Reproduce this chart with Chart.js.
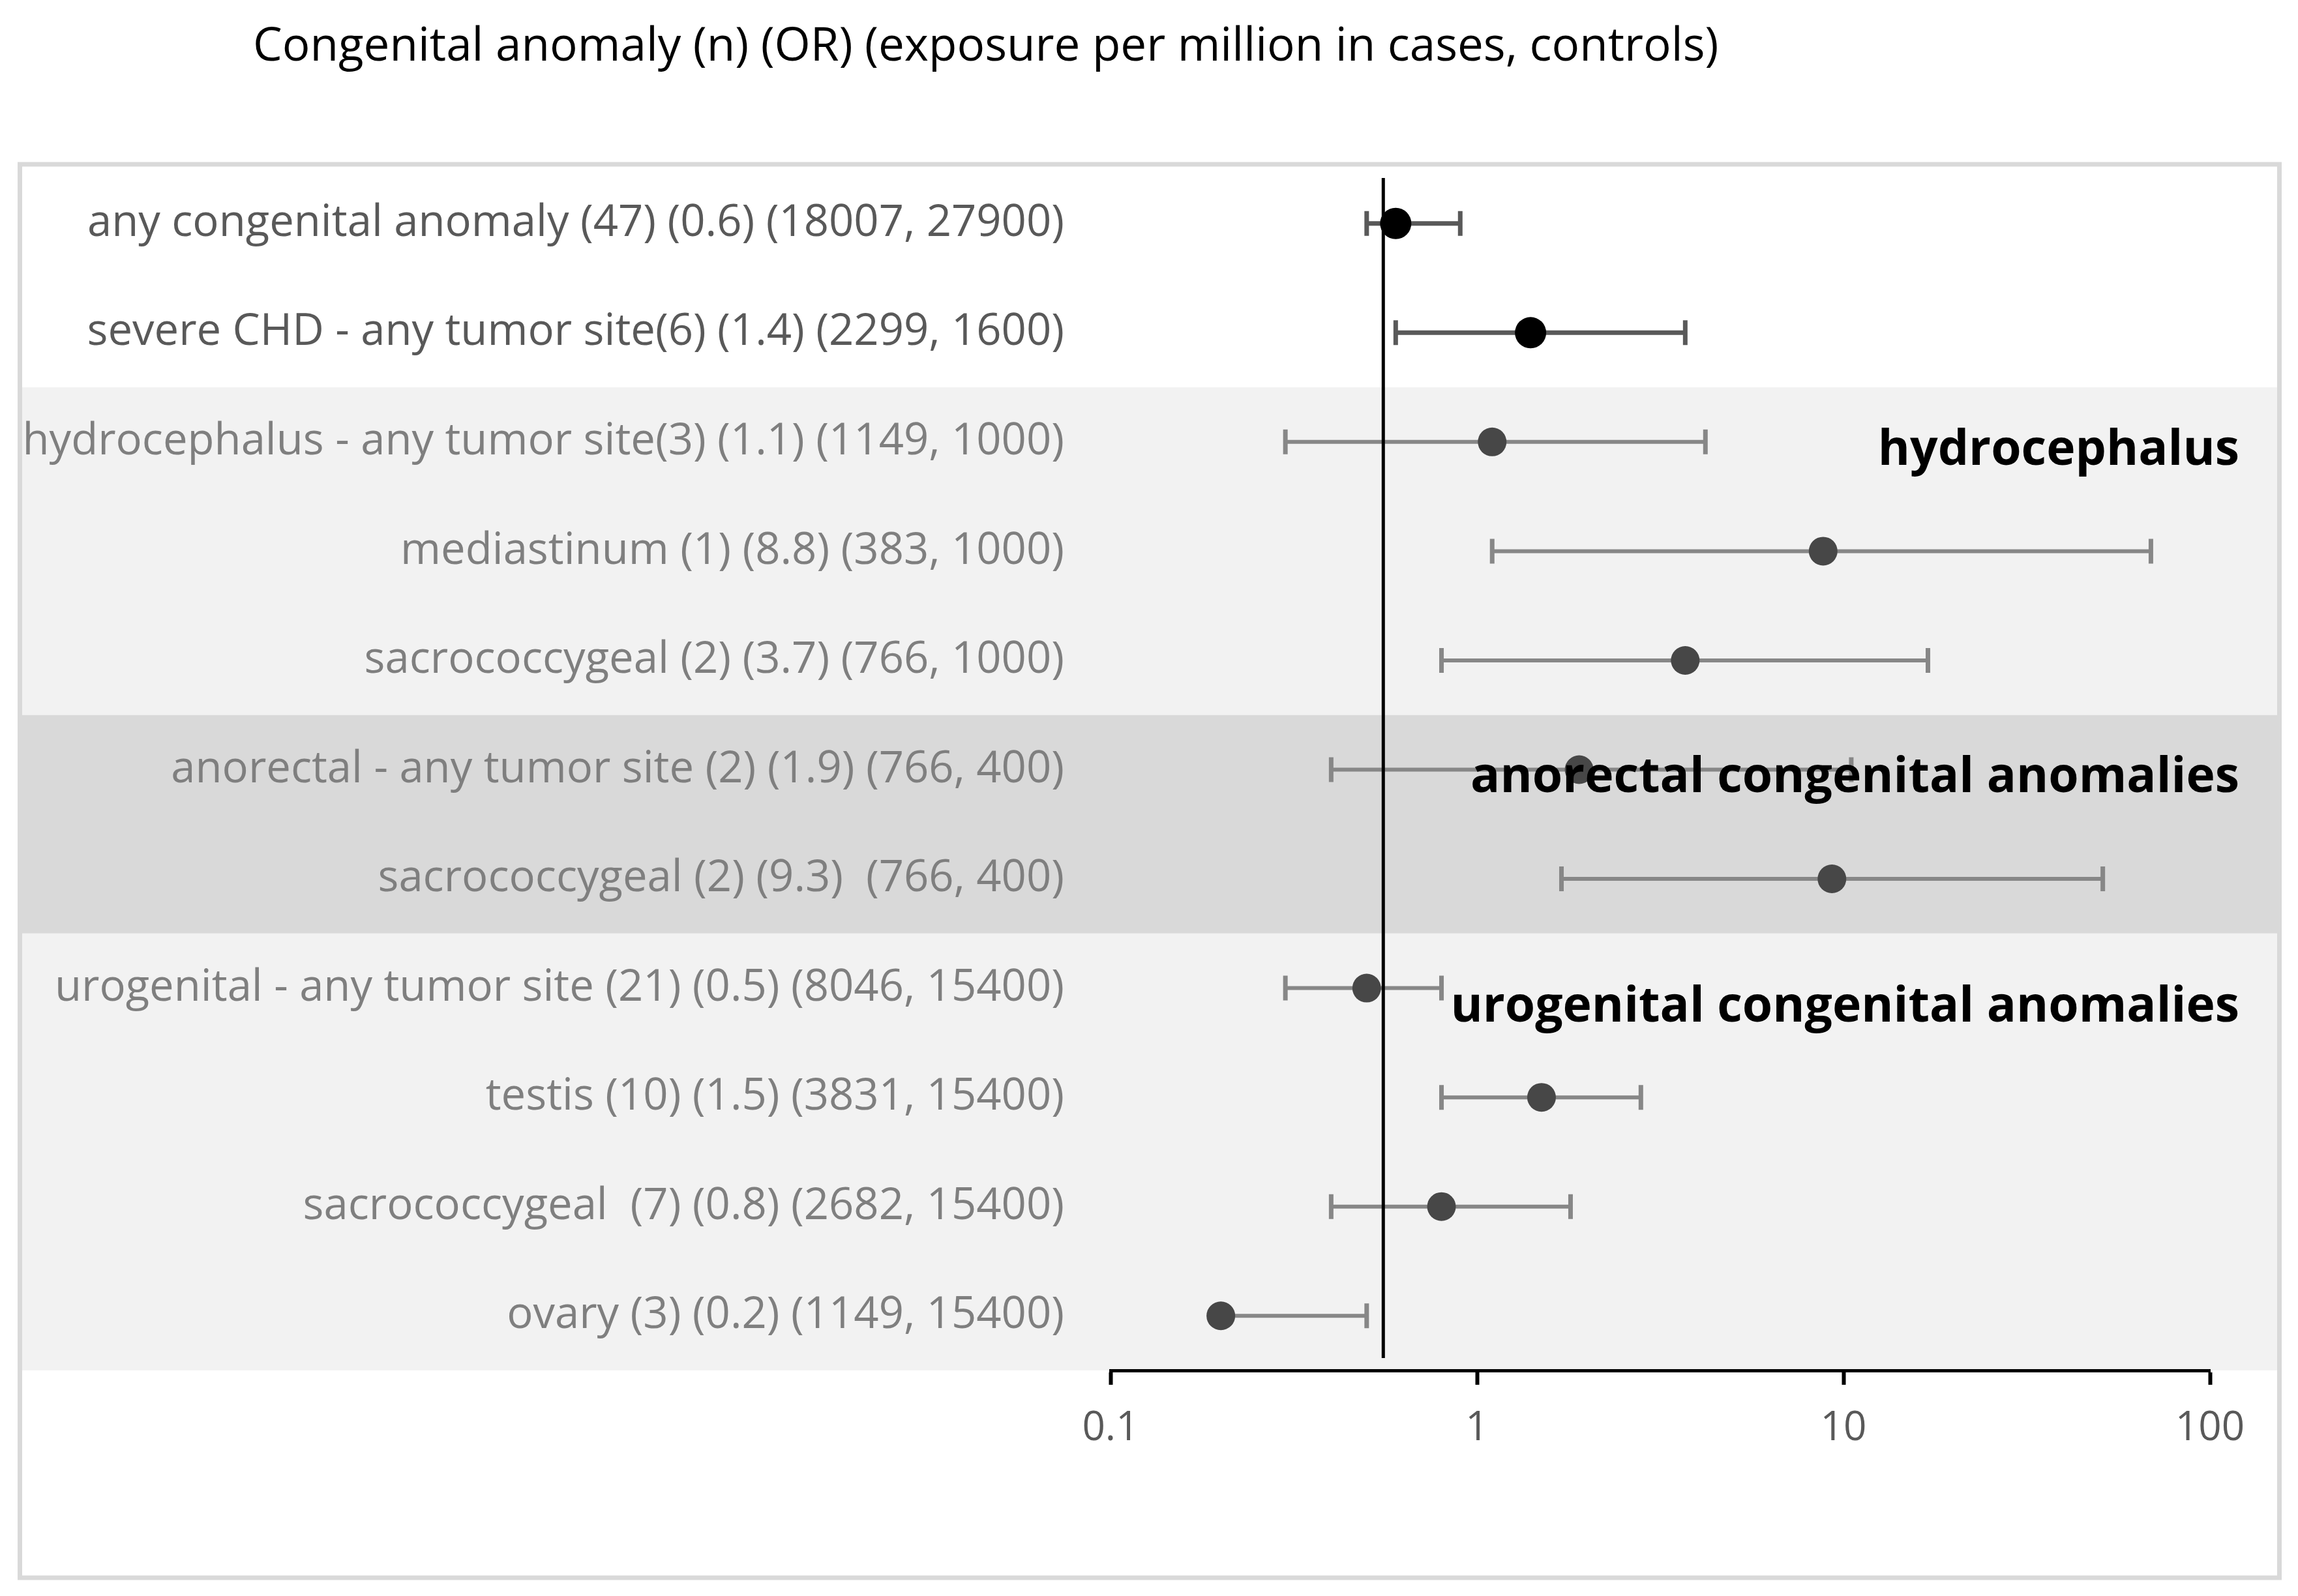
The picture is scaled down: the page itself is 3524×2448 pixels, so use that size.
<!DOCTYPE html>
<html>
<head>
<meta charset="utf-8">
<script src="https://cdn.jsdelivr.net/npm/chart.js@4.4.1/dist/chart.umd.min.js"></script>
<style>
  html, body { margin: 0; padding: 0; background: #fff; }
  canvas { display: block; }
</style>
</head>
<body>
<canvas id="myChart" width="3524" height="2448" style="width:3524px;height:2448px"></canvas>
<script>
    // Data
    const titleText = 'Congenital anomaly (n) (OR) (exposure per million in cases, controls)';
    const categories = [
        'any congenital anomaly (47) (0.6) (18007, 27900)',
        'severe CHD - any tumor site(6) (1.4) (2299, 1600)',
        'hydrocephalus - any tumor site(3) (1.1) (1149, 1000)',
        'mediastinum (1) (8.8) (383, 1000)',
        'sacrococcygeal (2) (3.7) (766, 1000)',
        'anorectal - any tumor site (2) (1.9) (766, 400)',
        'sacrococcygeal (2) (9.3)  (766, 400)',
        'urogenital - any tumor site (21) (0.5) (8046, 15400)',
        'testis (10) (1.5) (3831, 15400)',
        'sacrococcygeal  (7) (0.8) (2682, 15400)',
        'ovary (3) (0.2) (1149, 15400)'
    ];
    const orValues = [0.6, 1.4, 1.1, 8.8, 3.7, 1.9, 9.3, 0.5, 1.5, 0.8, 0.2];
    const ciLow = [0.5, 0.6, 0.3, 1.1, 0.8, 0.4, 1.7, 0.3, 0.8, 0.4, null];
    const ciHigh = [0.9, 3.7, 4.2, 69, 17, 10.5, 51, 0.8, 2.8, 1.8, 0.5];
    const xTicks = [0.1, 1, 10, 100];
    const refValue = 0.555;

    // group bands (row ranges) and their labels
    const groupNames = ['hydrocephalus', 'anorectal congenital anomalies', 'urogenital congenital anomalies'];
    const groupLabelRows = [2.08, 5.08, 7.18];
    const bandFirst = [2, 5, 7];
    const bandLast = [4, 6, 10];
    const bandColors = ['#f2f2f2', '#d9d9d9', '#f2f2f2'];

    const isMain = (i) => i < 2; // the two overall rows are darker

    const forestPlugin = {
        id: 'forest',
        beforeDraw(chart) {
            const { ctx } = chart;
            const y = chart.scales.y;
            ctx.save();
            bandFirst.forEach((first, i) => {
                const top = y.getPixelForValue(first - 0.5);
                const bottom = y.getPixelForValue(bandLast[i] + 0.5);
                ctx.fillStyle = bandColors[i];
                ctx.fillRect(34, top, 3458, bottom - top);
            });
            // outer frame
            ctx.strokeStyle = '#d9d9d9';
            ctx.lineWidth = 7;
            ctx.strokeRect(30.5, 252, 3465, 2168);
            // title
            ctx.fillStyle = '#000';
            ctx.font = '71px "Open Sans"';
            ctx.textAlign = 'left';
            ctx.textBaseline = 'alphabetic';
            ctx.fillText(titleText, 388, 93);
            ctx.restore();
        },
        beforeDatasetsDraw(chart) {
            const { ctx, chartArea } = chart;
            const x = chart.scales.x;
            const y = chart.scales.y;
            ctx.save();
            // error bars
            orValues.forEach((v, i) => {
                const py = y.getPixelForValue(i);
                const lo = x.getPixelForValue(ciLow[i] ?? v);
                const hi = x.getPixelForValue(ciHigh[i]);
                ctx.strokeStyle = isMain(i) ? '#595959' : '#878787';
                ctx.lineWidth = isMain(i) ? 7 : 6;
                ctx.beginPath();
                ctx.moveTo(lo, py);
                ctx.lineTo(hi, py);
                ctx.stroke();
                ctx.lineWidth = 7;
                ctx.beginPath();
                if (ciLow[i] != null) {
                    ctx.moveTo(lo, py - 19);
                    ctx.lineTo(lo, py + 19);
                }
                ctx.moveTo(hi, py - 19);
                ctx.lineTo(hi, py + 19);
                ctx.stroke();
            });
            // reference line
            const rx = x.getPixelForValue(refValue);
            ctx.strokeStyle = '#000';
            ctx.lineWidth = 5;
            ctx.beginPath();
            ctx.moveTo(rx, chartArea.top + 14);
            ctx.lineTo(rx, chartArea.bottom - 19);
            ctx.stroke();
            ctx.restore();
        },
        afterDatasetsDraw(chart) {
            const { ctx } = chart;
            const y = chart.scales.y;
            ctx.save();
            ctx.fillStyle = '#000';
            ctx.font = 'bold 75px "Open Sans"';
            ctx.textAlign = 'right';
            ctx.textBaseline = 'middle';
            groupNames.forEach((name, i) => {
                ctx.fillText(name, 3434, y.getPixelForValue(groupLabelRows[i]));
            });
            ctx.restore();
        }
    };

    Chart.defaults.font.family = '"Open Sans", sans-serif';

    const ctx = document.getElementById('myChart').getContext('2d');
    const myChart = new Chart(ctx, {
        type: 'line',
        data: {
            labels: categories,
            datasets: [{
                label: 'OR',
                data: orValues,
                showLine: false,
                pointRadius: orValues.map((v, i) => isMain(i) ? 24 : 22),
                pointBackgroundColor: orValues.map((v, i) => isMain(i) ? '#000000' : '#474747'),
                pointBorderWidth: 0,
                pointHoverRadius: 22
            }]
        },
        options: {
            indexAxis: 'y',
            responsive: false,
            animation: false,
            devicePixelRatio: 1,
            layout: { padding: { top: 259, bottom: 196, left: 0, right: 135 } },
            plugins: {
                legend: { display: false },
                tooltip: { enabled: false },
                title: { display: false }
            },
            scales: {
                x: {
                    type: 'logarithmic',
                    position: 'bottom',
                    min: 0.1,
                    max: 100,
                    afterBuildTicks: (s) => { s.ticks = xTicks.map(v => ({ value: v })); },
                    afterFit: (s) => { s.height = 150; },
                    ticks: {
                        callback: (v) => String(v),
                        color: '#595959',
                        font: { size: 62 },
                        padding: 30,
                        maxRotation: 0,
                        autoSkip: false
                    },
                    grid: { drawOnChartArea: false, drawTicks: true, tickLength: 22, tickWidth: 6, tickColor: '#000' },
                    border: { display: true, color: '#000', width: 5 }
                },
                y: {
                    type: 'category',
                    labels: categories,
                    offset: true,
                    afterFit: (s) => { s.width = 1703; },
                    ticks: {
                        color: (c) => isMain(c.index) ? '#595959' : '#7f7f7f',
                        font: { size: 67 },
                        padding: 71,
                        crossAlign: 'near',
                        autoSkip: false
                    },
                    grid: { display: false, drawTicks: false },
                    border: { display: false }
                }
            }
        },
        plugins: [forestPlugin]
    });
</script>
</body>
</html>
